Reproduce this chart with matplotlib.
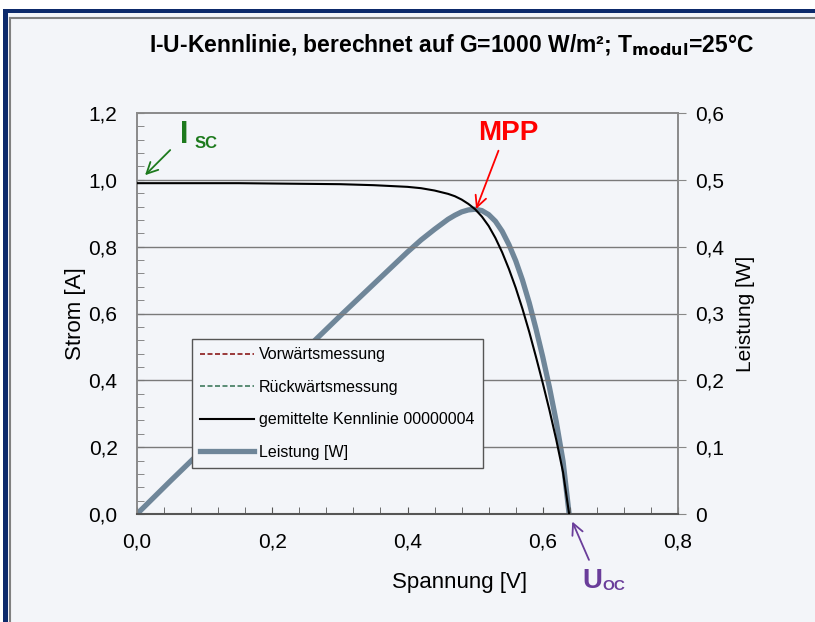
"""I-U-Kennlinie einer Solarzelle mit Leistungskurve (Nachbau)."""
import matplotlib
matplotlib.use('Agg')
import matplotlib.pyplot as plt
from matplotlib.lines import Line2D
from matplotlib.patches import Rectangle
from matplotlib.ticker import MultipleLocator, FuncFormatter

spannung = [0.0, 0.05, 0.10, 0.15, 0.20, 0.25, 0.30, 0.35, 0.40, 0.42, 0.44,
            0.46, 0.47, 0.48, 0.49, 0.50, 0.51, 0.52, 0.53, 0.54, 0.55, 0.56,
            0.57, 0.58, 0.59, 0.60, 0.61, 0.62, 0.63, 0.639]
strom = [0.990, 0.990, 0.990, 0.990, 0.989, 0.988, 0.987, 0.984, 0.979, 0.975,
         0.968, 0.958, 0.951, 0.941, 0.928, 0.912, 0.890, 0.862, 0.826, 0.783,
         0.733, 0.677, 0.614, 0.545, 0.470, 0.392, 0.310, 0.222, 0.125, 0.0]
leistung = [0.0, 0.050, 0.099, 0.149, 0.198, 0.247, 0.296, 0.344, 0.392, 0.410,
            0.426, 0.441, 0.447, 0.452, 0.455, 0.456, 0.454, 0.448, 0.438, 0.423,
            0.403, 0.379, 0.350, 0.316, 0.277, 0.235, 0.189, 0.138, 0.079, 0.0]

legend_labels = ['Vorwärtsmessung', 'Rückwärtsmessung',
                 'gemittelte Kennlinie 00000004', 'Leistung [W]']

BG = '#f3f5f9'
GRAU = '#6f8699'
FONT = ['Liberation Sans', 'DejaVu Sans']
plt.rcParams['font.family'] = FONT

fig = plt.figure(figsize=(8.15, 6.22), dpi=100, facecolor=BG)
W, H = 815, 622

# Rahmen (blau + grau) wie im Scan
fig.patches.append(Rectangle((0, 1 - 9 / H), 1, 9 / H, transform=fig.transFigure,
                             facecolor='white', edgecolor='none', zorder=-5))
fig.patches.append(Rectangle((0, 0), 3 / W, 1, transform=fig.transFigure,
                             facecolor='white', edgecolor='none', zorder=-5))
fig.patches.append(Rectangle((3 / W, 1 - 13 / H), 1, 4 / H, transform=fig.transFigure,
                             facecolor='#0d2a6b', edgecolor='none'))
fig.patches.append(Rectangle((3 / W, 0), 5 / W, 1 - 9 / H, transform=fig.transFigure,
                             facecolor='#0d2a6b', edgecolor='none'))
fig.lines.append(Line2D([10 / W, 1], [1 - 18 / H, 1 - 18 / H], transform=fig.transFigure,
                        color='#808080', lw=1.5))
fig.lines.append(Line2D([10 / W, 10 / W], [0, 1 - 18 / H], transform=fig.transFigure,
                        color='#808080', lw=1.5))

ax = fig.add_axes([137 / W, 1 - 514 / H, 541 / W, 401 / H])
ax.set_facecolor('none')
ax2 = ax.twinx()

for y in [0.2, 0.4, 0.6, 0.8, 1.0]:
    ax.axhline(y, color='#7a7a7a', lw=1.0, zorder=0)

ax.plot(spannung, strom, color='black', lw=1.5, zorder=3)
ax2.plot(spannung, leistung, color=GRAU, lw=3.8, zorder=2,
         solid_capstyle='round', solid_joinstyle='round')

ax.set_xlim(0, 0.8)
ax.set_ylim(0, 1.2)
ax2.set_ylim(0, 0.6)

komma = FuncFormatter(lambda v, p: f'{v:.1f}'.replace('.', ','))
ax.xaxis.set_major_locator(MultipleLocator(0.2))
ax.xaxis.set_minor_locator(MultipleLocator(0.04))
ax.yaxis.set_major_locator(MultipleLocator(0.2))
ax.yaxis.set_minor_locator(MultipleLocator(0.04))
ax.xaxis.set_major_formatter(komma)
ax.yaxis.set_major_formatter(komma)
ax2.yaxis.set_major_locator(MultipleLocator(0.1))
ax2.yaxis.set_major_formatter(FuncFormatter(
    lambda v, p: '0' if abs(v) < 1e-9 else f'{v:.1f}'.replace('.', ',')))

ax.tick_params(axis='x', which='both', direction='in', length=5, color='#555',
               labelsize=15, pad=13, top=False)
ax.tick_params(axis='y', which='both', direction='in', length=5, color='#777',
               labelsize=15, pad=14)
ax2.tick_params(axis='y', direction='out', length=6, color='#888', labelsize=15, pad=6)

for a in (ax, ax2):
    for s in a.spines.values():
        s.set_color('#8a8a8a')
        s.set_linewidth(1.2)
ax.spines['bottom'].set_color('#555')
ax.spines['bottom'].set_linewidth(1.5)

ax.set_xlabel('Spannung [V]', fontsize=16)
ax.xaxis.set_label_coords(0.597, -0.145)
ax.set_ylabel('Strom [A]', fontsize=16, labelpad=2)
ax2.set_ylabel('Leistung [W]', fontsize=15, labelpad=9)

fig.text(452 / W, 1 - 45 / H,
         'I-U-Kennlinie, berechnet auf G=1000 W/m²; T$_{\\mathbf{modul}}$=25°C',
         ha='center', va='center', fontsize=16.5, fontweight='bold')

# Markierungen
ax.annotate('', xy=(0.009, 1.008), xytext=(0.052, 1.095),
            arrowprops=dict(arrowstyle='->', color='#1d7a1d', lw=1.3,
                            mutation_scale=20))
ax.text(0.063, 1.135, 'I', color='#1d7a1d', fontsize=22, fontweight='bold',
        ha='left', va='center')
ax.text(0.085, 1.11, 'SC', color='#1d7a1d', fontsize=12, fontweight='bold',
        ha='left', va='center')

ax.annotate('', xy=(0.500, 0.905), xytext=(0.536, 1.095),
            arrowprops=dict(arrowstyle='->', color='red', lw=1.3,
                            mutation_scale=20))
ax.text(0.549, 1.14, 'MPP', color='red', fontsize=20, fontweight='bold',
        ha='center', va='center')

ax.annotate('', xy=(0.642, -0.015), xytext=(0.670, -0.145),
            arrowprops=dict(arrowstyle='->', color='#6a3d9a', lw=1.3,
                            mutation_scale=20), annotation_clip=False)
ax.text(0.658, -0.20, 'U', color='#6a3d9a', fontsize=20, fontweight='bold',
        ha='left', va='center', clip_on=False)
ax.text(0.6875, -0.215, 'OC', color='#6a3d9a', fontsize=11, fontweight='bold',
        ha='left', va='center', clip_on=False)

handles = [
    Line2D([], [], color='#8b1a1a', lw=1.2, ls=(0, (3, 1.5))),
    Line2D([], [], color='#3f7a5e', lw=1.2, ls=(0, (3, 1.5))),
    Line2D([], [], color='black', lw=1.5),
    Line2D([], [], color=GRAU, lw=3.8),
]
leg = ax.legend(handles, legend_labels, loc='lower left',
                bbox_to_anchor=(0.1017, 0.115), borderaxespad=0,
                fontsize=11.5, handlelength=3.4,
                handletextpad=0.3, labelspacing=1.1, borderpad=0.5,
                fancybox=False, framealpha=1, edgecolor='#555',
                facecolor=BG)
leg.get_frame().set_linewidth(1.0)
leg.set_zorder(5)
ax.set_zorder(ax2.get_zorder() + 1)
ax.patch.set_visible(False)

fig.savefig('out.png', dpi=100, facecolor=BG)
